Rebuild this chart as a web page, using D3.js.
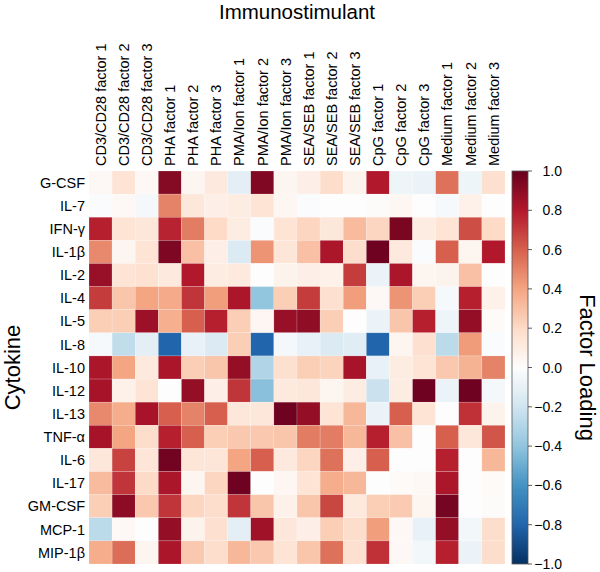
<!DOCTYPE html>
<html>
<head>
<meta charset="utf-8">
<script src="https://cdn.jsdelivr.net/npm/d3@7"></script>
<style>
  body { margin: 0; background: #fff; }
  svg { display: block; font-family: "Liberation Sans", Arial, sans-serif; }
</style>
</head>
<body>
<svg id="chart" width="600" height="572"></svg>
<script>
const cytokines = ["G-CSF", "IL-7", "IFN-\u03b3", "IL-1\u03b2", "IL-2", "IL-4", "IL-5", "IL-8",
  "IL-10", "IL-12", "IL-13", "TNF-\u03b1", "IL-6", "IL-17", "GM-CSF", "MCP-1", "MIP-1\u03b2"];

const stimulants = [
  "CD3/CD28 factor 1", "CD3/CD28 factor 2", "CD3/CD28 factor 3",
  "PHA factor 1", "PHA factor 2", "PHA factor 3",
  "PMA/Ion factor 1", "PMA/Ion factor 2", "PMA/Ion factor 3",
  "SEA/SEB factor 1", "SEA/SEB factor 2", "SEA/SEB factor 3",
  "CpG factor 1", "CpG factor 2", "CpG factor 3",
  "Medium factor 1", "Medium factor 2", "Medium factor 3"
];

// one row per cytokine, one value per stimulant column
const loadings = [
  [0.03, 0.15, 0.03, 0.92, 0.05, 0.12, -0.12, 0.93, 0.05, 0.08, 0.18, 0.06, 0.80, -0.07, -0.08, 0.55, -0.07, 0.17],
  [-0.02, 0.03, -0.04, 0.50, 0.13, 0.08, 0.10, 0.15, 0.04, -0.02, 0.00, 0.00, 0.01, 0.04, 0.00, -0.03, 0.07, 0.00],
  [0.78, 0.15, 0.13, 0.77, 0.52, 0.20, 0.10, -0.02, 0.15, 0.22, 0.13, 0.32, 0.22, 0.95, 0.10, 0.15, 0.65, 0.20],
  [0.48, 0.05, 0.15, 0.94, 0.30, 0.08, -0.15, 0.45, 0.14, 0.30, 0.82, 0.18, 0.98, 0.12, -0.02, 0.60, 0.05, 0.80],
  [0.87, 0.15, 0.16, 0.12, 0.80, 0.10, 0.12, 0.00, 0.06, 0.08, 0.07, 0.70, -0.08, 0.82, 0.05, 0.06, 0.30, 0.00],
  [0.70, 0.28, 0.40, 0.38, 0.72, 0.42, 0.82, -0.40, 0.25, 0.70, 0.17, 0.42, 0.03, 0.45, 0.25, -0.03, 0.78, 0.07],
  [0.25, 0.25, 0.86, 0.36, 0.60, 0.78, 0.25, 0.04, 0.87, 0.89, 0.25, 0.00, -0.08, 0.28, 0.78, -0.07, 0.88, 0.02],
  [-0.03, -0.25, -0.12, -0.80, -0.10, -0.15, 0.25, -0.80, -0.04, -0.10, -0.15, -0.13, -0.80, 0.05, 0.17, -0.27, 0.43, -0.02],
  [0.82, 0.40, 0.12, 0.82, 0.25, 0.28, 0.88, -0.30, 0.17, 0.25, 0.23, 0.83, -0.10, 0.10, 0.15, 0.27, 0.35, 0.50],
  [0.83, 0.07, 0.15, 0.00, 0.88, 0.08, 0.72, -0.42, 0.12, 0.13, 0.05, 0.10, -0.22, 0.10, 0.98, -0.08, 0.98, -0.04],
  [0.48, 0.37, 0.83, 0.60, 0.50, 0.60, 0.13, 0.13, 0.98, 0.88, 0.15, 0.33, -0.08, 0.60, 0.15, 0.00, 0.73, 0.06],
  [0.83, 0.40, 0.18, 0.78, 0.60, 0.25, 0.27, 0.27, 0.28, 0.52, 0.52, 0.33, 0.78, 0.30, 0.00, 0.60, 0.13, 0.63],
  [0.13, 0.68, 0.14, 0.97, 0.14, 0.14, 0.40, 0.60, 0.12, 0.22, 0.55, 0.08, 0.60, 0.00, 0.00, 0.78, 0.00, 0.33],
  [0.32, 0.72, 0.20, 0.82, 0.05, 0.22, 0.98, 0.00, 0.04, 0.15, 0.37, 0.33, 0.00, 0.02, 0.03, 0.82, 0.00, 0.02],
  [0.25, 0.90, 0.27, 0.72, 0.22, 0.18, 0.72, 0.28, 0.07, 0.28, 0.67, 0.12, 0.25, 0.26, 0.05, 0.96, 0.00, 0.01],
  [-0.27, 0.03, 0.00, 0.88, 0.06, 0.17, -0.12, 0.85, 0.13, 0.08, 0.25, 0.18, 0.42, 0.03, -0.10, 0.88, -0.05, 0.18],
  [0.37, 0.56, 0.05, 0.82, 0.27, 0.18, 0.33, 0.27, 0.15, 0.28, 0.55, 0.17, 0.73, 0.03, -0.05, 0.78, -0.08, 0.18]
];

const colorTicks = [-1.0, -0.8, -0.6, -0.4, -0.2, 0.0, 0.2, 0.4, 0.6, 0.8, 1.0];

// RdBu reversed (colorbrewer 11), centre nudged to white
const rdbu = ["#053061", "#2166ac", "#4393c3", "#92c5de", "#d1e5f0", "#fdfdfd",
  "#fddbc7", "#f4a582", "#d6604d", "#b2182b", "#67001f"];

const svg = d3.select("#chart");
const plot = { left: 89, top: 171, width: 416, height: 393 };

const x = d3.scaleBand().domain(stimulants).range([plot.left, plot.left + plot.width]);
const y = d3.scaleBand().domain(cytokines).range([plot.top, plot.top + plot.height]);
const color = d3.scaleLinear().domain(d3.range(11).map(i => -1 + i * 0.2)).range(rdbu).clamp(true);

const cells = [];
loadings.forEach((row, i) => {
  row.forEach((v, j) => cells.push({ cyto: cytokines[i], stim: stimulants[j], v }));
});

svg.append("g")
  .selectAll("rect")
  .data(cells)
  .join("rect")
  .attr("x", d => x(d.stim))
  .attr("y", d => y(d.cyto))
  .attr("width", x.bandwidth())
  .attr("height", y.bandwidth())
  .attr("fill", d => color(d.v))
  .attr("stroke", "#fff")
  .attr("stroke-opacity", 0.35)
  .attr("stroke-width", 0.5);

// column labels (rotated)
svg.append("g")
  .selectAll("text")
  .data(stimulants)
  .join("text")
  .attr("transform", d => `translate(${x(d) + x.bandwidth() / 2},166) rotate(-90)`)
  .attr("dy", "0.36em")
  .attr("font-size", 14.5)
  .attr("fill", "#000")
  .text(d => d);

// row labels
svg.append("g")
  .selectAll("text")
  .data(cytokines)
  .join("text")
  .attr("x", 85)
  .attr("y", d => y(d) + y.bandwidth() / 2)
  .attr("dy", "0.36em")
  .attr("text-anchor", "end")
  .attr("font-size", 14.5)
  .attr("fill", "#000")
  .text(d => d);

svg.append("text")
  .attr("x", plot.left + plot.width / 2)
  .attr("y", 19)
  .attr("text-anchor", "middle")
  .attr("font-size", 20.5)
  .text("Immunostimulant");

svg.append("text")
  .attr("transform", `translate(19.5,${plot.top + plot.height / 2}) rotate(-90)`)
  .attr("text-anchor", "middle")
  .attr("font-size", 22)
  .text("Cytokine");

// ── colorbar ──
const cb = { x: 512, width: 16 };
const cbScale = d3.scaleLinear().domain([-1, 1]).range([plot.top + plot.height, plot.top]);

const grad = svg.append("defs").append("linearGradient")
  .attr("id", "cbgrad")
  .attr("x1", 0).attr("y1", 1).attr("x2", 0).attr("y2", 0);
grad.selectAll("stop")
  .data(d3.range(0, 1.0001, 0.02))
  .join("stop")
  .attr("offset", d => d)
  .attr("stop-color", d => color(-1 + 2 * d));

svg.append("rect")
  .attr("x", cb.x)
  .attr("y", plot.top)
  .attr("width", cb.width)
  .attr("height", plot.height)
  .attr("fill", "url(#cbgrad)")
  .attr("stroke", "#555")
  .attr("stroke-width", 0.8);

const cbAxis = svg.append("g");
cbAxis.selectAll("line")
  .data(colorTicks)
  .join("line")
  .attr("x1", cb.x + cb.width)
  .attr("x2", cb.x + cb.width + 4)
  .attr("y1", d => cbScale(d))
  .attr("y2", d => cbScale(d))
  .attr("stroke", "#333")
  .attr("stroke-width", 0.8);
cbAxis.selectAll("text")
  .data(colorTicks)
  .join("text")
  .attr("x", 562)
  .attr("y", d => cbScale(d))
  .attr("dy", "0.36em")
  .attr("text-anchor", "end")
  .attr("font-size", 14)
  .text(d => d3.format(".1f")(d).replace("-", "\u2212"));

svg.append("text")
  .attr("transform", `translate(580,${plot.top + plot.height / 2}) rotate(90)`)
  .attr("text-anchor", "middle")
  .attr("font-size", 22)
  .text("Factor Loading");
</script>
</body>
</html>
